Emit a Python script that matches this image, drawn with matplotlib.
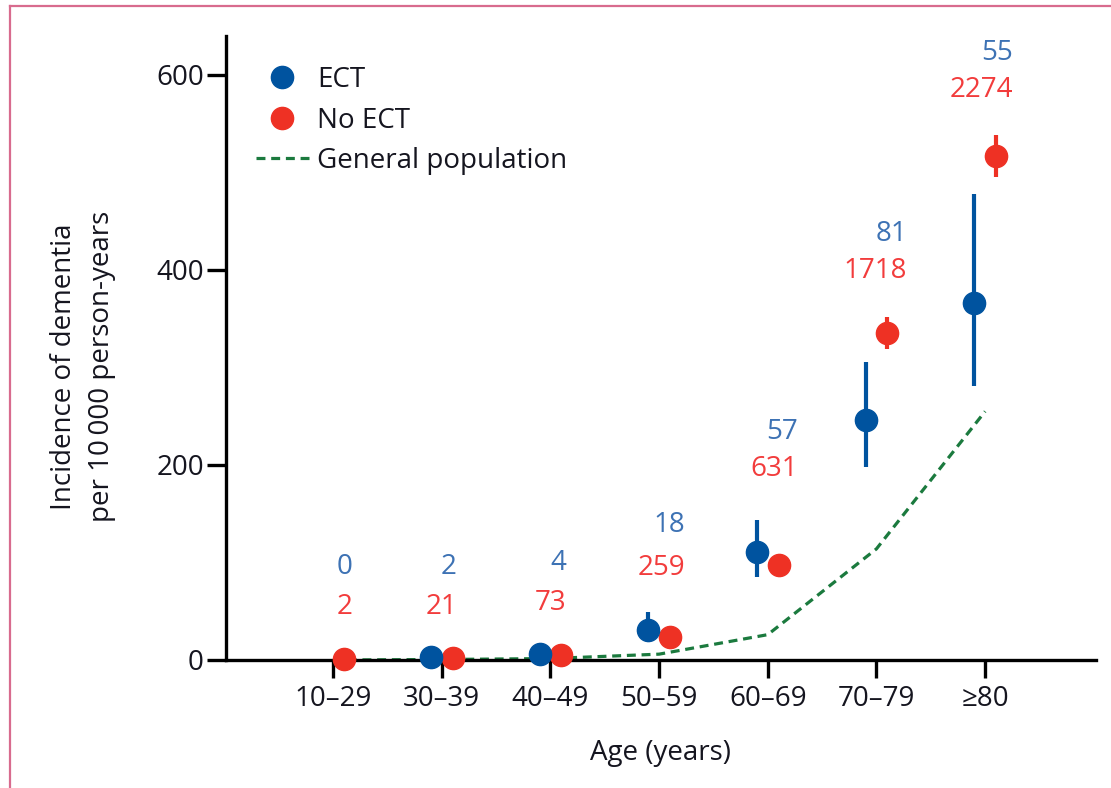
import numpy as np
import matplotlib.pyplot as plt
from matplotlib.lines import Line2D

plt.rcParams['font.family'] = ['Open Sans', 'DejaVu Sans']

# Data
age_groups = ['10–29', '30–39', '40–49', '50–59', '60–69', '70–79', '≥80']

ect_groups = [1, 2, 3, 4, 5, 6]          # no ECT point for 10-29 (0 cases)
ect_rate = [3, 6, 31, 111, 246, 366]
ect_low = [3, 6, 18, 85, 198, 281]
ect_high = [3, 6, 49, 144, 306, 478]

noect_rate = [1, 2, 5, 24, 97, 335, 517]
noect_low = [1, 2, 5, 24, 97, 319, 495]
noect_high = [1, 2, 5, 24, 97, 352, 538]

genpop_rate = [0, 0.5, 1.5, 6, 26, 114, 255]

ect_cases = ['0', '2', '4', '18', '57', '81', '55']
noect_cases = ['2', '21', '73', '259', '631', '1718', '2274']

# Layout of the case-count labels (value axis, right edge offset)
label_y_ect = [95, 95, 99, 138, 234, 437, 623]
label_y_noect = [54, 54, 58, 94, 196, 399, 585]
label_dx = [0.18, 0.14, 0.15, 0.24, 0.28, 0.28, 0.26]

blue = '#00539f'
red = '#ee3124'
green = '#1b7a3e'
blue_txt = '#3d72b4'
red_txt = '#f23c3c'
ink = '#15151f'
fs = 20

fig = plt.figure(figsize=(11.11, 7.88), dpi=100)
ax = fig.add_axes([226 / 1111, 1 - 660 / 788, (1096 - 226) / 1111, (660 - 36) / 788])

x = np.arange(len(age_groups))
off = 0.1

ax.plot(x, genpop_rate, color=green, lw=2.3, dashes=(2.8, 1.8), zorder=2)

ex = np.array(ect_groups) - off
er = np.array(ect_rate)
ax.errorbar(ex, er, yerr=[er - np.array(ect_low), np.array(ect_high) - er],
            fmt='o', color=blue, ms=16, elinewidth=3, capsize=0, zorder=4, clip_on=False)

nx = x + off
nr = np.array(noect_rate)
ax.errorbar(nx, nr, yerr=[nr - np.array(noect_low), np.array(noect_high) - nr],
            fmt='o', color=red, ms=16, elinewidth=3, capsize=0, zorder=3, clip_on=False)

for i in range(len(age_groups)):
    ax.text(x[i] + label_dx[i], label_y_ect[i], ect_cases[i], color=blue_txt,
            fontsize=fs, ha='right', va='center')
    ax.text(x[i] + label_dx[i], label_y_noect[i], noect_cases[i], color=red_txt,
            fontsize=fs, ha='right', va='center')

ax.set_xlim(-0.985, 7.02)
ax.set_ylim(0, 640)
ax.set_xticks(x)
ax.set_xticklabels(age_groups)
ax.set_yticks([0, 200, 400, 600])
for s in ['top', 'right']:
    ax.spines[s].set_visible(False)
for s in ['left', 'bottom']:
    ax.spines[s].set_linewidth(2.4)
    ax.spines[s].set_color('black')
ax.tick_params(axis='both', width=2.4, length=13, labelsize=fs, labelcolor=ink, pad=5)
ax.tick_params(axis='y', length=14, pad=2)

ax.set_xlabel('Age (years)', fontsize=fs, color=ink, labelpad=19)
ax.set_ylabel('Incidence of dementia\nper 10\u2009000 person-years', fontsize=fs,
              color=ink, labelpad=29, linespacing=1.45)
ax.yaxis.label.set_y(0.47)

handles = [
    Line2D([], [], marker='o', ls='none', color=blue, ms=16),
    Line2D([], [], marker='o', ls='none', color=red, ms=16),
    Line2D([], [], color=green, lw=2.3, dashes=(2.8, 1.8)),
]
ax.legend(handles, ['ECT', 'No ECT', 'General population'], loc='upper left',
          bbox_to_anchor=(256 / 1111, 1 - 66 / 788), bbox_transform=fig.transFigure,
          frameon=False, fontsize=fs, handlelength=1.9, handletextpad=0.3,
          labelspacing=0.45, borderpad=0, borderaxespad=0, labelcolor=ink)

# pink frame around the panel
border = '#d86b8e'
fig.add_artist(Line2D([10 / 1111, 10 / 1111], [0, 1 - 6 / 788], color=border, lw=1.6,
                      transform=fig.transFigure))
fig.add_artist(Line2D([10 / 1111, 1], [1 - 6 / 788, 1 - 6 / 788], color=border, lw=1.6,
                      transform=fig.transFigure))

fig.savefig('out.png', dpi=100)
